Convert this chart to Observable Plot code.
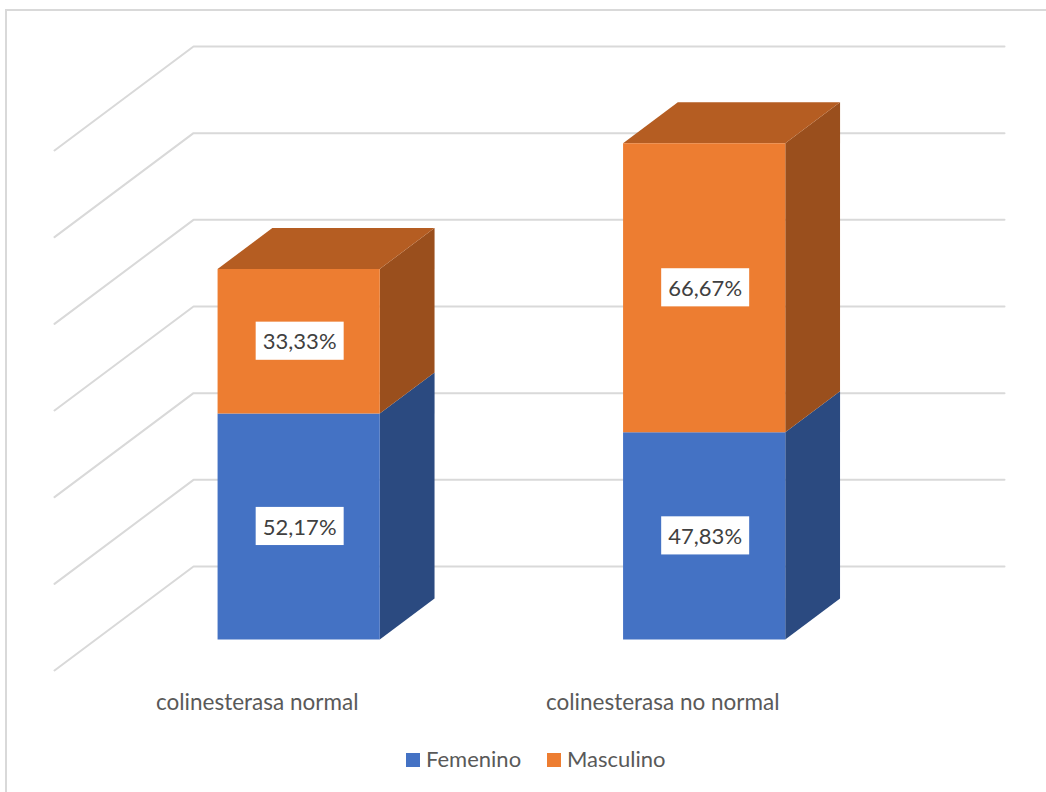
<!DOCTYPE html>
<html>
<head>
<meta charset="utf-8">
<script src="https://cdn.jsdelivr.net/npm/d3@7"></script>
<script src="https://cdn.jsdelivr.net/npm/@observablehq/plot@0.6"></script>
<style>
  html, body { margin: 0; padding: 0; background: #fff; width: 1046px; height: 792px; overflow: hidden; }
  body { position: relative; font-family: Lato, sans-serif; }
  #frame { position: absolute; left: 5px; top: 9px; width: 1100px; height: 900px; border: 2px solid #d9d9d9; box-sizing: border-box; }
  #chart { position: absolute; left: 0; top: 0; }
  #legend { position: absolute; left: 0; top: 742px; width: 1046px; height: 34px; color: #595959; font-size: 22px; line-height: 34px; }
  #legend span { position: absolute; top: 0; white-space: nowrap; }
  #legend i { position: absolute; top: 11px; width: 14px; height: 14px; display: block; }
</style>
</head>
<body>
<div id="frame"></div>
<div id="chart"></div>
<div id="legend"></div>
<script>
const categories = ["colinesterasa normal", "colinesterasa no normal"];
const femenino = [52.17, 47.83];
const masculino = [33.33, 66.67];
const gridValues = [0, 20, 40, 60, 80, 100, 120];
const seriesNames = ["Femenino", "Masculino"];
const frontColors = ["#4472C4", "#ED7D31"];
const sideColors = ["#2B4A80", "#9A4F1D"];
const topColor = "#B55D22";

// 3D box geometry in scale units: x in categories, y in percent
const depthX = 139 / 405.5, depthY = 24;
const barWidth = 0.4, depthStart = 0.298, depthEnd = 0.692;
const px = (i, side, d) => i + 0.5 + side * barWidth / 2 + d * depthX;
const py = (v, d) => v + d * depthY;

const faces = [];
function addFace(id, fill, pts) { for (const [x, y] of pts) faces.push({id, fill, x, y}); }
categories.forEach((_, i) => {
  const stacks = [[0, femenino[i]], [femenino[i], femenino[i] + masculino[i]]];
  stacks.forEach(([lo, hi], s) => {
    addFace(`side-${i}-${s}`, sideColors[s], [
      [px(i, 1, depthStart), py(lo, depthStart)], [px(i, 1, depthEnd), py(lo, depthEnd)],
      [px(i, 1, depthEnd), py(hi, depthEnd)], [px(i, 1, depthStart), py(hi, depthStart)]]);
    if (s === 1) addFace(`top-${i}-${s}`, topColor, [
      [px(i, -1, depthStart), py(hi, depthStart)], [px(i, 1, depthStart), py(hi, depthStart)],
      [px(i, 1, depthEnd), py(hi, depthEnd)], [px(i, -1, depthEnd), py(hi, depthEnd)]]);
    addFace(`front-${i}-${s}`, frontColors[s], [
      [px(i, -1, depthStart), py(lo, depthStart)], [px(i, 1, depthStart), py(lo, depthStart)],
      [px(i, 1, depthStart), py(hi, depthStart)], [px(i, -1, depthStart), py(hi, depthStart)]]);
  });
});

const grid = gridValues.flatMap(v => [
  {v, x: 0, y: v},
  {v, x: depthX, y: v + depthY},
  {v, x: 2 + depthX, y: v + depthY}
]);

const fmt = v => v.toFixed(2).replace(".", ",") + "%";
const labels = categories.flatMap((_, i) => [
  {x: px(i, 0, depthStart), y: py(femenino[i] / 2, depthStart), text: fmt(femenino[i])},
  {x: px(i, 0, depthStart), y: py(femenino[i] + masculino[i] / 2, depthStart), text: fmt(masculino[i])}
]);
const boxW = 0.1085, boxH = 4.4, boxShift = 0.0037;

const faceMarks = d3.groups(faces, f => f.id).map(([id, pts]) =>
  Plot.line(pts, {x: "x", y: "y", fill: pts[0].fill, stroke: "none"}));

const plot = Plot.plot({
  width: 1046,
  height: 735,
  margin: 0,
  style: {background: "transparent", overflow: "visible"},
  x: {domain: [0, 2], range: [54, 865], axis: null},
  y: {domain: [0, 144], range: [670, 46], axis: null},
  marks: [
    Plot.line(grid, {x: "x", y: "y", z: "v", stroke: "#d9d9d9", strokeWidth: 2, strokeLinejoin: "miter"}),
    ...faceMarks,
    Plot.rect(labels, {x1: d => d.x - boxW + boxShift, x2: d => d.x + boxW + boxShift, y1: d => d.y - boxH, y2: d => d.y + boxH, fill: "#fff"}),
    Plot.text(labels, {x: "x", y: "y", text: "text", fill: "#404040", fontSize: 22, fontFamily: "Lato, sans-serif", dy: 1, dx: 1}),
    Plot.text(categories, {x: (_, i) => i + 0.5, y: -7.4, text: d => d, fill: "#595959", fontSize: 22.5, fontFamily: "Lato, sans-serif"})
  ]
});
document.getElementById("chart").appendChild(plot);

const legend = document.getElementById("legend");
const legendSwatchX = [406, 547], legendTextX = [426, 567];
seriesNames.forEach((name, i) => {
  const sw = document.createElement("i");
  sw.style.left = legendSwatchX[i] + "px";
  sw.style.background = frontColors[i];
  legend.appendChild(sw);
  const t = document.createElement("span");
  t.style.left = legendTextX[i] + "px";
  t.textContent = name;
  legend.appendChild(t);
});
</script>
</body>
</html>
